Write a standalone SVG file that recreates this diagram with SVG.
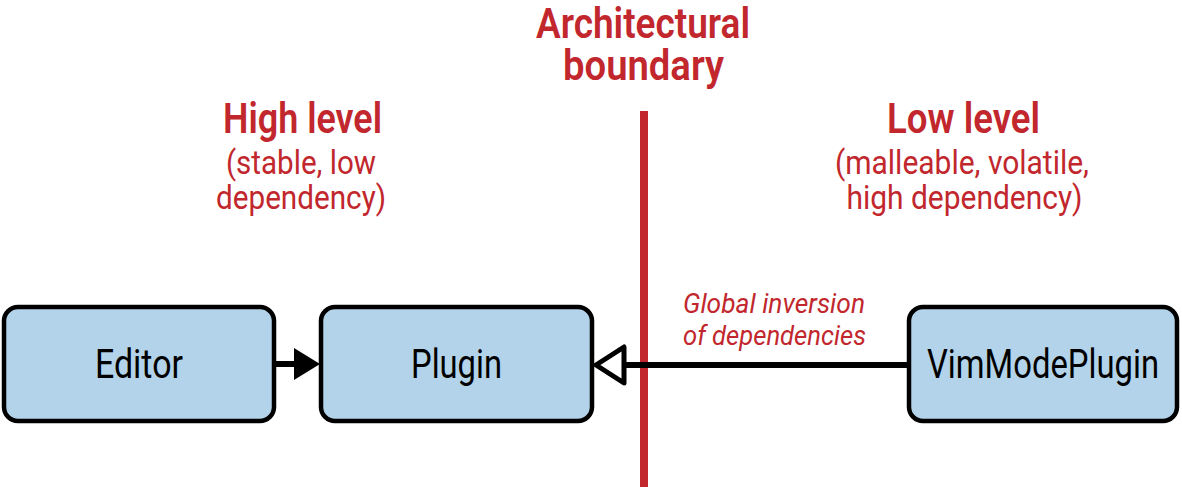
<svg xmlns="http://www.w3.org/2000/svg" width="1182" height="487" viewBox="0 0 1182 487">
<style>
.node rect{fill:#b2d3e9;stroke:#000;stroke-width:4.5}
.label{font-family:Roboto,"Liberation Sans",sans-serif;font-size:41px;fill:#000;text-anchor:middle}
.title{font-family:Roboto,"Liberation Sans",sans-serif;font-size:43px;font-weight:600;fill:#c1272d;text-anchor:middle}
.sub{font-family:Roboto,"Liberation Sans",sans-serif;font-size:33px;fill:#c1272d;text-anchor:middle}
.note{font-family:Roboto,"Liberation Sans",sans-serif;font-size:27px;font-style:italic;fill:#c1272d}
.conn{stroke:#000;stroke-width:6;fill:none}
</style>
<defs>
<marker id="filled" markerUnits="userSpaceOnUse" markerWidth="26" markerHeight="32" viewBox="0 0 26 32" refX="2" refY="16" orient="auto">
<path d="M0,0 L26,16 L0,32 z" fill="#000"/>
</marker>
<marker id="open" markerUnits="userSpaceOnUse" markerWidth="40" markerHeight="46" viewBox="-5 -5 40 46" refX="0" refY="18" orient="auto" overflow="visible">
<path d="M0,0 L28,18 L0,36 z" fill="#fff" stroke="#000" stroke-width="5" stroke-linejoin="round"/>
</marker>
</defs>
<rect width="1182" height="487" fill="#fff"/>
<g id="boundary">
<line x1="644" y1="111" x2="644" y2="487" stroke="#c1272d" stroke-width="8"/>
<text class="title" x="643" y="38" textLength="214" lengthAdjust="spacingAndGlyphs">Architectural</text>
<text class="title" x="643.5" y="80" textLength="161" lengthAdjust="spacingAndGlyphs">boundary</text>
</g>
<g id="high-level">
<text class="title" x="302.5" y="133" textLength="159" lengthAdjust="spacingAndGlyphs">High level</text>
<text class="sub" x="301" y="174" textLength="150" lengthAdjust="spacingAndGlyphs">(stable, low</text>
<text class="sub" x="301" y="209" textLength="170" lengthAdjust="spacingAndGlyphs">dependency)</text>
</g>
<g id="low-level">
<text class="title" x="963.5" y="133" textLength="153" lengthAdjust="spacingAndGlyphs">Low level</text>
<text class="sub" x="962" y="174" textLength="254" lengthAdjust="spacingAndGlyphs">(malleable, volatile,</text>
<text class="sub" x="964.5" y="209" textLength="236" lengthAdjust="spacingAndGlyphs">high dependency)</text>
</g>
<g id="connectors">
<line class="conn" x1="274" y1="364" x2="296" y2="364" marker-end="url(#filled)"/>
<line class="conn" x1="909" y1="365" x2="624" y2="365" marker-end="url(#open)"/>
<text class="note" x="683" y="313" textLength="182" lengthAdjust="spacingAndGlyphs">Global inversion</text>
<text class="note" x="683" y="345" textLength="183" lengthAdjust="spacingAndGlyphs">of dependencies</text>
</g>
<g id="editor" class="node">
<rect x="4" y="307" width="270" height="114" rx="14"/>
<text class="label" x="139" y="378" textLength="88" lengthAdjust="spacingAndGlyphs">Editor</text>
</g>
<g id="plugin" class="node">
<rect x="321" y="307" width="271" height="114" rx="14"/>
<text class="label" x="456.5" y="378" textLength="91" lengthAdjust="spacingAndGlyphs">Plugin</text>
</g>
<g id="vimmodeplugin" class="node">
<rect x="909" y="307" width="268" height="114" rx="14"/>
<text class="label" x="1043" y="378" textLength="232" lengthAdjust="spacingAndGlyphs">VimModePlugin</text>
</g>
</svg>
